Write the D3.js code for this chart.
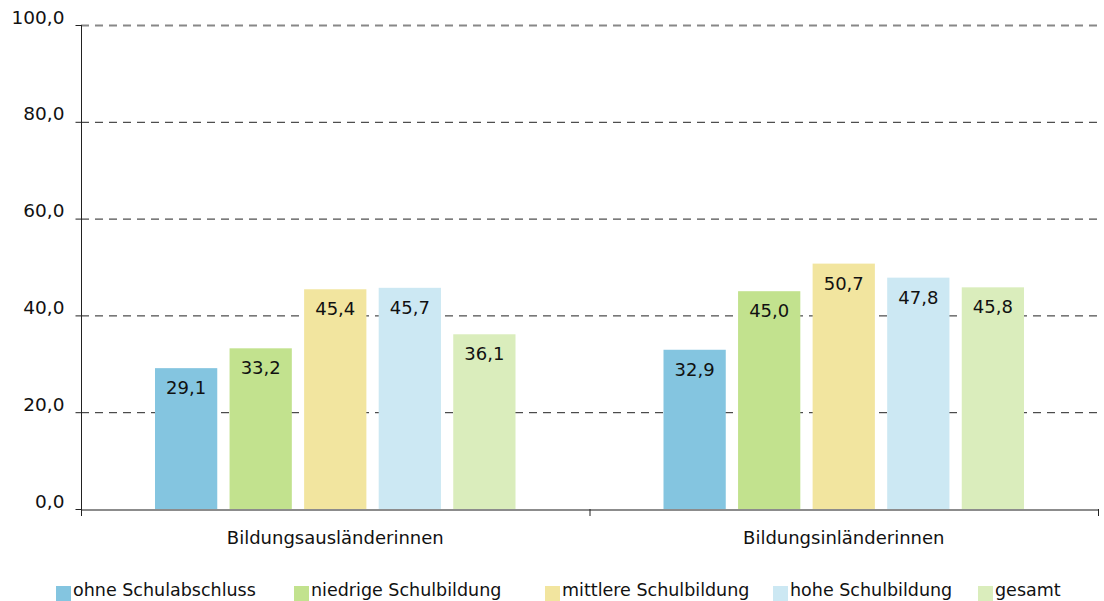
<!DOCTYPE html>
<html>
<head>
<meta charset="utf-8">
<script src="https://cdn.jsdelivr.net/npm/d3@7"></script>
<style>
  body { margin: 0; background: #fff; }
  svg text { font-family: 'DejaVu Sans', sans-serif; fill: #111; }
</style>
</head>
<body>
<div id="chart"></div>
<script>
const categories = ['Bildungsausländerinnen', 'Bildungsinländerinnen']
const series = ['ohne Schulabschluss', 'niedrige Schulbildung', 'mittlere Schulbildung', 'hohe Schulbildung', 'gesamt']
const values = [
  [29.1, 33.2, 45.4, 45.7, 36.1],
  [32.9, 45.0, 50.7, 47.8, 45.8]
]
const colors = ['#84c5e0', '#c2e28e', '#f2e59f', '#cce8f3', '#daedbc']
const yTicks = [0, 20, 40, 60, 80, 100]

const width = 1104
const height = 601
const margin = { top: 25, right: 6, bottom: 92, left: 81 }

const svg = d3.select('#chart').append('svg')
  .attr('width', width)
  .attr('height', height)

const x0 = d3.scaleBand()
  .domain(categories)
  .range([margin.left, width - margin.right])

const x1 = d3.scaleBand()
  .domain(series)
  .range([74, x0.bandwidth() - 74])
  .paddingInner(0.165)

const y = d3.scaleLinear()
  .domain([0, 100])
  .range([height - margin.bottom, margin.top])

const fmt = v => d3.format('.1f')(v).replace('.', ',')

// grid
svg.append('g')
  .selectAll('line')
  .data(yTicks.filter(d => d > 0))
  .enter().append('line')
  .attr('x1', margin.left)
  .attr('x2', width - margin.right)
  .attr('y1', d => y(d) + 0.5)
  .attr('y2', d => y(d) + 0.5)
  .attr('stroke', d => d === 100 ? '#888' : '#222')
  .attr('stroke-width', d => d === 100 ? 2 : 1)
  .attr('stroke-dasharray', '8,6')

// bars
const groups = svg.append('g')
  .selectAll('g')
  .data(categories).enter()
  .append('g')
  .attr('transform', d => `translate(${x0(d)},0)`)

groups.selectAll('rect')
  .data((d, i) => series.map((s, j) => ({ key: s, value: values[i][j], c: colors[j] })))
  .enter().append('rect')
  .attr('x', d => x1(d.key))
  .attr('y', d => y(d.value))
  .attr('width', x1.bandwidth())
  .attr('height', d => y(0) - y(d.value))
  .attr('fill', d => d.c)

groups.selectAll('text')
  .data((d, i) => series.map((s, j) => ({ key: s, value: values[i][j] })))
  .enter().append('text')
  .attr('x', d => x1(d.key) + x1.bandwidth() / 2)
  .attr('y', d => y(d.value) + 26)
  .attr('text-anchor', 'middle')
  .style('font-size', '18px')
  .text(d => fmt(d.value))

// y axis
const yAxis = svg.append('g')
  .attr('transform', `translate(${margin.left + 0.5},0)`)
  .call(d3.axisLeft(y).tickValues(yTicks).tickSize(6).tickFormat(fmt))
yAxis.select('.domain').attr('d', `M0,${margin.top}V${y(0) + 6}`).attr('stroke', '#222')
yAxis.selectAll('.tick line').attr('stroke', '#222')
yAxis.selectAll('.tick text')
  .attr('x', -17)
  .attr('dy', '-0.1em')
  .style('font-size', '18.5px')
  .style('font-family', "'DejaVu Sans', sans-serif")
  .attr('fill', '#111')

// x axis
const xAxis = svg.append('g')
  .attr('transform', `translate(0,${y(0) + 0.5})`)
  .call(d3.axisBottom(x0).tickSize(0).tickSizeOuter(0))
xAxis.select('.domain').attr('stroke', '#666').attr('stroke-width', 1.5)
xAxis.selectAll('.tick text')
  .attr('y', 34.5)
  .attr('dy', 0)
  .style('font-size', '18px')
  .style('font-family', "'DejaVu Sans', sans-serif")
  .attr('fill', '#111')

svg.append('g')
  .selectAll('line')
  .data([margin.left, x0(categories[1]), width - margin.right])
  .enter().append('line')
  .attr('x1', d => d + 0.5)
  .attr('x2', d => d + 0.5)
  .attr('y1', y(0))
  .attr('y2', y(0) + 7)
  .attr('stroke', '#222')

// legend
const legendX = [56, 294, 545, 773, 978]
const legend = svg.append('g')
  .selectAll('g')
  .data(series).enter()
  .append('g')
  .attr('transform', (d, i) => `translate(${legendX[i]},586)`)

legend.append('rect')
  .attr('width', 15)
  .attr('height', 15)
  .attr('fill', (d, i) => colors[i])

legend.append('text')
  .attr('x', 17)
  .attr('y', 9.5)
  .style('font-size', '17.5px')
  .text(d => d)
</script>
</body>
</html>
